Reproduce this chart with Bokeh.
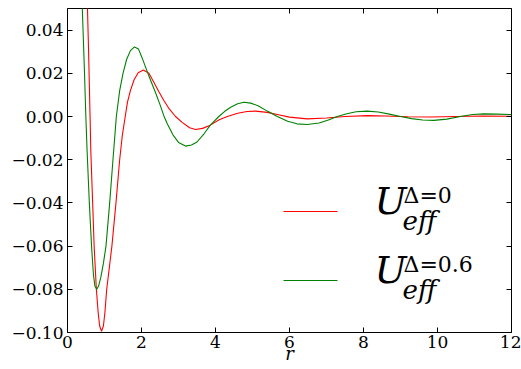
from bokeh.plotting import figure
from bokeh.models import (Range1d, FixedTicker, LinearAxis, BoxAnnotation,
                          Label, CustomJSTickFormatter)
from bokeh.embed import file_html
from bokeh.resources import INLINE

# ---- data ----
red_r = [0.50, 0.54, 0.57, 0.61, 0.63, 0.68, 0.72, 0.78, 0.83, 0.87, 0.92, 0.97,
         1.01, 1.06, 1.20, 1.31, 1.41, 1.48, 1.56, 1.62, 1.70, 1.80, 1.91, 2.05,
         2.20, 2.33, 2.47, 2.60, 2.75, 2.92, 3.10, 3.30, 3.46, 3.65, 3.86, 4.10,
         4.32, 4.60, 4.85, 5.08, 5.40, 5.70, 6.00, 6.48, 7.00, 7.50, 8.10, 8.60,
         9.20, 9.80, 10.50, 11.20, 12.00]
red_u = [0.120, 0.050, 0.030, 0.000, -0.016, -0.040, -0.060, -0.080, -0.091, -0.097,
         -0.0995, -0.097, -0.091, -0.080, -0.060, -0.040, -0.020, -0.009, 0.000,
         0.0065, 0.0120, 0.0170, 0.0203, 0.0215, 0.0200, 0.0160, 0.0115, 0.0075,
         0.0035, 0.0000, -0.0027, -0.0052, -0.0060, -0.0055, -0.0040, -0.0015,
         0.0000, 0.0015, 0.0023, 0.0025, 0.0019, 0.0008, -0.0003, -0.0011, -0.0007,
         0.0000, 0.0004, 0.0002, -0.0001, -0.0002, 0.0000, 0.0002, 0.0001]

green_r = [0.34, 0.40, 0.42, 0.46, 0.49, 0.53, 0.59, 0.65, 0.70, 0.74, 0.79, 0.84,
           0.90, 0.97, 1.04, 1.14, 1.22, 1.32, 1.41, 1.50, 1.60, 1.70, 1.81, 1.92,
           2.02, 2.15, 2.24, 2.38, 2.50, 2.60, 2.70, 2.85, 3.00, 3.19, 3.35, 3.50,
           3.69, 3.86, 4.09, 4.25, 4.41, 4.60, 4.77, 4.95, 5.15, 5.40, 5.67, 5.95,
           6.20, 6.48, 6.80, 7.05, 7.29, 7.55, 7.80, 8.10, 8.40, 8.70, 9.00, 9.30,
           9.60, 9.90, 10.25, 10.62, 10.95, 11.25, 11.60, 12.00]
green_u = [0.120, 0.050, 0.040, 0.020, 0.003, -0.016, -0.040, -0.060, -0.073, -0.0785,
           -0.0800, -0.0785, -0.0745, -0.0680, -0.0600, -0.0400, -0.0220, 0.0000,
           0.0120, 0.0200, 0.0265, 0.0305, 0.0322, 0.0312, 0.0270, 0.0210, 0.0170,
           0.0110, 0.0055, 0.0005, -0.0035, -0.0085, -0.0120, -0.0137, -0.0132,
           -0.0118, -0.0080, -0.0040, 0.0000, 0.0024, 0.0043, 0.0059, 0.0066, 0.0062,
           0.0050, 0.0025, 0.0000, -0.0022, -0.0034, -0.0037, -0.0030, -0.0016,
           0.0000, 0.0013, 0.0022, 0.0025, 0.0021, 0.0011, 0.0000, -0.0010, -0.0016,
           -0.0018, -0.0012, 0.0000, 0.0009, 0.0012, 0.0011, 0.0009]

x_ticks = [0, 2, 4, 6, 8, 10, 12]
y_ticks = [-0.10, -0.08, -0.06, -0.04, -0.02, 0.00, 0.02, 0.04]
x_label = "r"
sup_labels = ["\u0394=0", "\u0394=0.6"]
series_colors = ["#ff0000", "#008000"]
main_label = "U"
sub_label = "eff"

FONT = "DejaVu Serif"

p = figure(width=521, height=369, output_backend="svg", toolbar_location=None,
           x_range=Range1d(0, 12), y_range=Range1d(-0.10, 0.05),
           min_border_left=67, min_border_right=10, min_border_top=8,
           min_border_bottom=37)
p.background_fill_color = "white"
p.border_fill_color = "white"
p.outline_line_color = "black"
p.outline_line_width = 1
p.xgrid.visible = False
p.ygrid.visible = False

yfmt = CustomJSTickFormatter(code="return (tick < -1e-9 ? '\\u2212' : '') + Math.abs(tick).toFixed(2);")
xfmt = CustomJSTickFormatter(code="return tick.toFixed(0);")
blank = CustomJSTickFormatter(code="return '';")

for ax in p.xaxis:
    ax.ticker = FixedTicker(ticks=x_ticks)
    ax.formatter = xfmt
    ax.axis_label = x_label
    ax.axis_label_text_font = FONT
    ax.axis_label_text_font_style = "italic"
    ax.axis_label_text_font_size = "18px"
    ax.axis_label_text_color = "black"
    ax.axis_label_standoff = -8
for ax in p.yaxis:
    ax.ticker = FixedTicker(ticks=y_ticks)
    ax.formatter = yfmt

for ax in list(p.xaxis) + list(p.yaxis):
    ax.axis_line_color = None
    ax.major_tick_in = 5
    ax.major_tick_out = 0
    ax.minor_tick_in = 0
    ax.minor_tick_out = 0
    ax.major_tick_line_color = "black"
    ax.major_label_text_font = FONT
    ax.major_label_text_font_size = "17px"
    ax.major_label_text_color = "black"
p.xaxis.major_label_standoff = 3
p.yaxis.major_label_standoff = 4

right = LinearAxis(ticker=FixedTicker(ticks=y_ticks), formatter=blank,
                   major_label_text_font_size="1px", major_label_standoff=0,
                   axis_line_color=None, major_tick_in=5, major_tick_out=0,
                   minor_tick_in=0, minor_tick_out=0, major_tick_line_color="black")
top = LinearAxis(ticker=FixedTicker(ticks=x_ticks), formatter=blank,
                 major_label_text_font_size="1px", major_label_standoff=0,
                 axis_line_color=None, major_tick_in=5, major_tick_out=0,
                 minor_tick_in=0, minor_tick_out=0, major_tick_line_color="black")
p.add_layout(right, "right")
p.add_layout(top, "above")

p.line(red_r, red_u, line_color=series_colors[0], line_width=1.1)
p.line(green_r, green_u, line_color=series_colors[1], line_width=1.1)

# legend (drawn by hand so the math-style label can be composed)
row_line = [121, 52]      # screen px above the frame bottom
for i in range(2):
    p.add_layout(BoxAnnotation(left=216, right=270, bottom=row_line[i] - 0.55,
                               top=row_line[i] + 0.55, left_units="screen",
                               right_units="screen", bottom_units="screen",
                               top_units="screen", fill_color=series_colors[i],
                               fill_alpha=1.0, line_color=None))
    p.add_layout(Label(x=307, y=row_line[i] + 11, x_units="screen", y_units="screen",
                       text=main_label, text_font=FONT, text_font_style="italic",
                       text_font_size="38px", text_baseline="middle",
                       text_color="black"))
    p.add_layout(Label(x=336, y=row_line[i] + 16, x_units="screen", y_units="screen",
                       text=sup_labels[i], text_font=FONT, text_font_size="22px",
                       text_baseline="middle", text_color="black"))
    p.add_layout(Label(x=335, y=row_line[i] - 9, x_units="screen", y_units="screen",
                       text=sub_label, text_font=FONT, text_font_style="italic",
                       text_font_size="26px", text_baseline="middle",
                       text_color="black"))

open("out.html", "w", encoding="utf-8").write(file_html(p, INLINE))
